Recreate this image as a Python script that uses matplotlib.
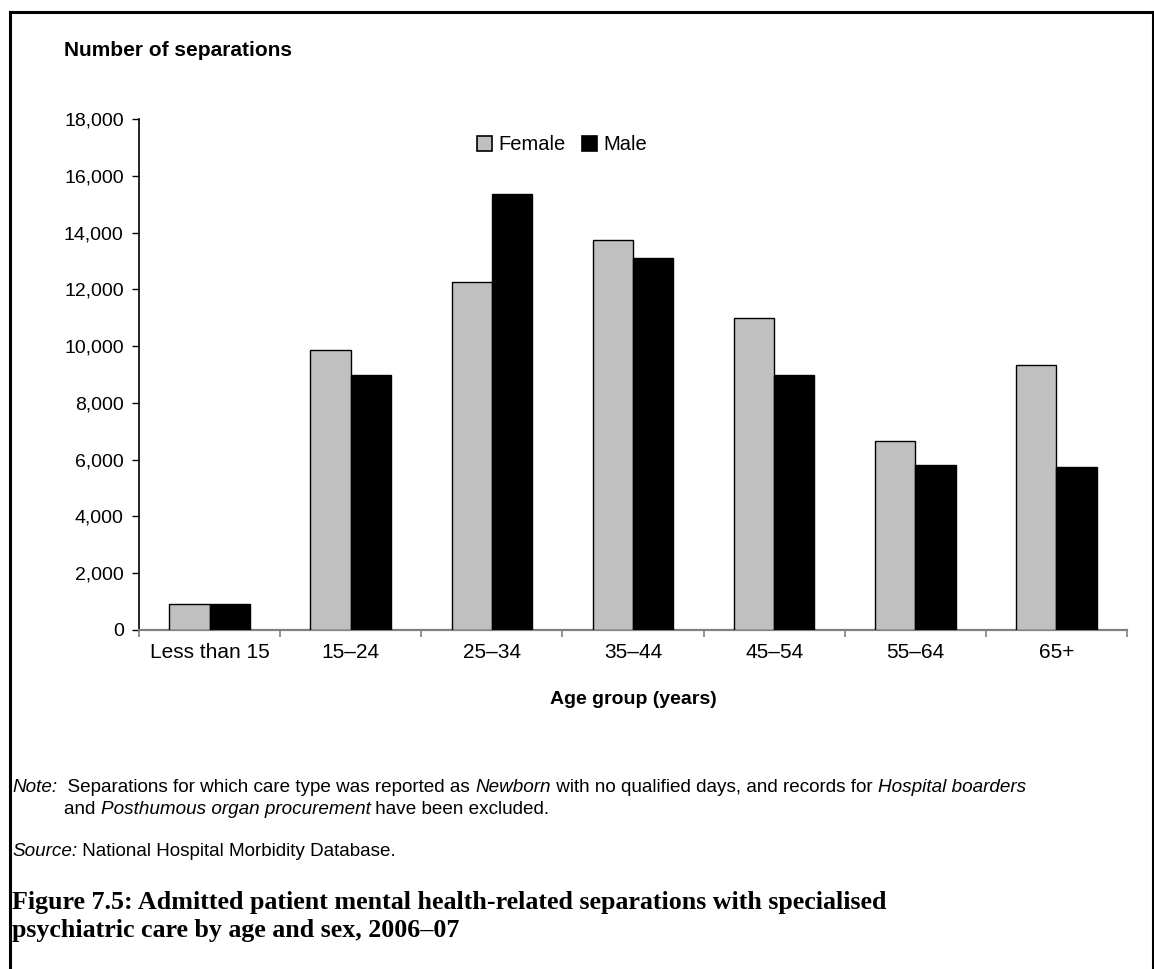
import matplotlib
matplotlib.use("Agg")
import matplotlib.pyplot as plt
from matplotlib.lines import Line2D
from matplotlib.patches import Patch
import numpy as np

# Separations by age group and sex
age_groups = ["Less than 15", "15\u201324", "25\u201334", "35\u201344", "45\u201354", "55\u201364", "65+"]
female = [930, 9880, 12260, 13740, 11000, 6650, 9320]
male = [930, 8980, 15370, 13100, 8980, 5800, 5730]
y_ticks = [0, 2000, 4000, 6000, 8000, 10000, 12000, 14000, 16000, 18000]

W, H = 1154, 969
fig = plt.figure(figsize=(W / 100, H / 100), dpi=100)
fig.patch.set_facecolor("white")
renderer = fig.canvas.get_renderer()

sans = "Liberation Sans"
serif = "Liberation Serif"

ax = fig.add_axes([139 / W, 1 - 630 / H, (1127 - 139) / W, (630 - 119) / H])

x = np.arange(len(age_groups))
bw = 0.2857
ax.bar(x - bw / 2, female, width=bw, color="#C0C0C0", edgecolor="black", linewidth=1.0, label="Female", zorder=3)
ax.bar(x + bw / 2, male, width=bw, color="black", edgecolor="black", linewidth=1.0, label="Male", zorder=3)

ax.set_xlim(-0.5, len(age_groups) - 0.5)
ax.set_ylim(0, 18000)
ax.set_yticks(y_ticks)
ax.set_yticklabels([f"{v:,}" for v in y_ticks], fontsize=14, family=sans)

# category labels centred, tick marks at category boundaries
ax.set_xticks(x)
ax.set_xticklabels(age_groups, fontsize=15, family=sans)
ax.tick_params(axis="x", length=0, pad=9)
ax.set_xticks(np.arange(-0.5, len(age_groups)), minor=True)
ax.tick_params(axis="x", which="minor", length=5, color="#808080", width=1.2, direction="out")
ax.tick_params(axis="y", length=5, color="black", width=1.0, direction="out", pad=6)

for s in ("top", "right"):
    ax.spines[s].set_visible(False)
ax.spines["left"].set_color("black")
ax.spines["left"].set_linewidth(1.2)
ax.spines["bottom"].set_color("#808080")
ax.spines["bottom"].set_linewidth(1.6)

ax.set_xlabel("Age group (years)", fontsize=14, fontweight="bold", family=sans, labelpad=21)

handles = [Patch(facecolor="#C0C0C0", edgecolor="black", linewidth=1.2),
           Patch(facecolor="black", edgecolor="black", linewidth=1.2)]
fig.legend(handles, ["Female", "Male"], loc="center", bbox_to_anchor=(562 / W, 1 - 145 / H),
           ncol=2, frameon=False, prop={"family": sans, "size": 14.5},
           handlelength=0.75, handleheight=0.75, handletextpad=0.3, columnspacing=0.8)

fig.text(64 / W, 1 - 50 / H, "Number of separations", fontsize=15, fontweight="bold",
         family=sans, ha="left", va="center")

# notes and source, written as runs of normal and italic text
note_size = 13.6


def runs(y, x0, parts):
    xp = x0
    for txt, ital in parts:
        tt = fig.text(xp / W, 1 - y / H, txt, fontsize=note_size, family=sans,
                      style="italic" if ital else "normal", va="center", ha="left")
        bb = tt.get_window_extent(renderer=renderer)
        xp += bb.width


runs(787, 12, [("Note:", True), ("  Separations for which care type was reported as ", False),
               ("Newborn", True), (" with no qualified days, and records for ", False),
               ("Hospital boarders", True)])
runs(809, 64, [("and ", False), ("Posthumous organ procurement", True), (" have been excluded.", False)])
runs(852, 12, [("Source:", True), (" National Hospital Morbidity Database.", False)])

# caption, sized so the first line spans its measured width
cap1 = fig.text(12 / W, 1 - 903 / H,
                "Figure 7.5: Admitted patient mental health-related separations with specialised",
                fontsize=15, fontweight="bold", family=serif, va="center", ha="left")
w = cap1.get_window_extent(renderer=renderer).width
cap_size = 15 * 876 / w
cap1.set_fontsize(cap_size)
fig.text(12 / W, 1 - 931 / H, "psychiatric care by age and sex, 2006\u201307",
         fontsize=cap_size, fontweight="bold", family=serif, va="center", ha="left")

# frame around the figure
frame_kw = dict(color="black", linewidth=2.2, transform=fig.transFigure, clip_on=False)
fig.add_artist(Line2D([10 / W, 10 / W], [0, 1 - 12 / H], **frame_kw))
fig.add_artist(Line2D([10 / W, 1153 / W], [1 - 12 / H, 1 - 12 / H], **frame_kw))
fig.add_artist(Line2D([1153 / W, 1153 / W], [0, 1 - 12 / H], **frame_kw))

fig.savefig("out.png", dpi=100, facecolor="white")
